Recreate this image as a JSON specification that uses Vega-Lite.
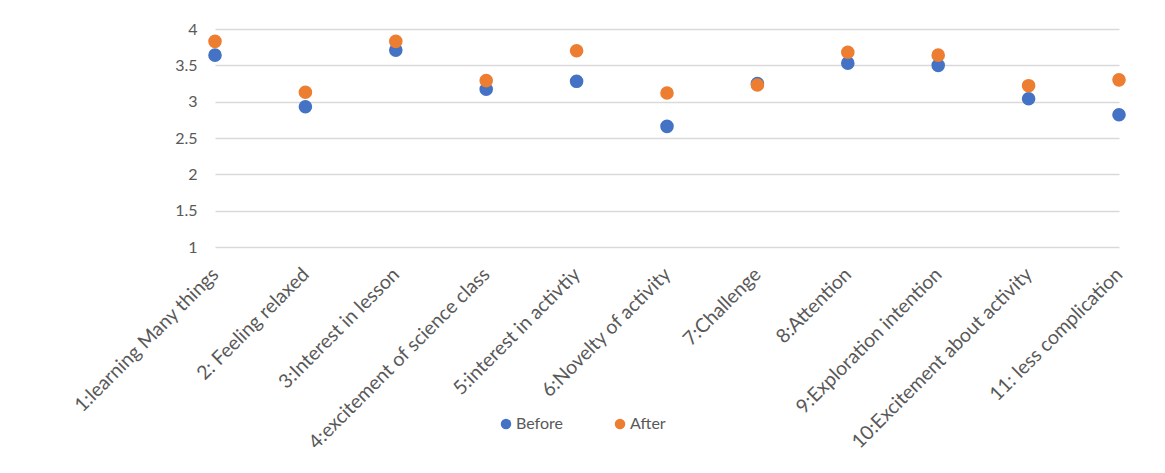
{
  "$schema": "https://vega.github.io/schema/vega-lite/v6.json",
  "autosize": "none",
  "width": 904,
  "height": 218,
  "padding": {"left": 215, "top": 29, "right": 46, "bottom": 226},
  "background": "white",
  "config": {
    "font": "Lato",
    "view": {"stroke": null},
    "axis": {"labelColor": "#595959", "labelFont": "Lato", "labelFontSize": 16}
  },
  "data": {
    "values": [
      {"item": "1:learning Many things", "phase": "Before", "score": 3.64},
      {"item": "2: Feeling relaxed", "phase": "Before", "score": 2.93},
      {"item": "3:Interest in lesson", "phase": "Before", "score": 3.71},
      {"item": "4:excitement of science class", "phase": "Before", "score": 3.17},
      {"item": "5:interest in activtiy", "phase": "Before", "score": 3.28},
      {"item": "6:Novelty of activity", "phase": "Before", "score": 2.66},
      {"item": "7:Challenge", "phase": "Before", "score": 3.25},
      {"item": "8:Attention", "phase": "Before", "score": 3.53},
      {"item": "9:Exploration intention", "phase": "Before", "score": 3.50},
      {"item": "10:Excitement about activity", "phase": "Before", "score": 3.04},
      {"item": "11: less complication", "phase": "Before", "score": 2.82},
      {"item": "1:learning Many things", "phase": "After", "score": 3.83},
      {"item": "2: Feeling relaxed", "phase": "After", "score": 3.13},
      {"item": "3:Interest in lesson", "phase": "After", "score": 3.83},
      {"item": "4:excitement of science class", "phase": "After", "score": 3.29},
      {"item": "5:interest in activtiy", "phase": "After", "score": 3.70},
      {"item": "6:Novelty of activity", "phase": "After", "score": 3.12},
      {"item": "7:Challenge", "phase": "After", "score": 3.23},
      {"item": "8:Attention", "phase": "After", "score": 3.68},
      {"item": "9:Exploration intention", "phase": "After", "score": 3.64},
      {"item": "10:Excitement about activity", "phase": "After", "score": 3.22},
      {"item": "11: less complication", "phase": "After", "score": 3.30}
    ]
  },
  "mark": {"type": "circle", "size": 185, "opacity": 1},
  "encoding": {
    "x": {
      "field": "item",
      "type": "nominal",
      "sort": null,
      "scale": {"type": "point", "padding": 0},
      "axis": {
        "title": null,
        "domain": false,
        "ticks": false,
        "labelAngle": -45,
        "labelAlign": "right",
        "labelBaseline": "middle",
        "labelFontSize": 19.5,
        "labelPadding": 24,
        "labelLimit": 400
      }
    },
    "y": {
      "field": "score",
      "type": "quantitative",
      "scale": {"domain": [1, 4], "nice": false, "zero": false},
      "axis": {
        "title": null,
        "domain": false,
        "ticks": false,
        "values": [1, 1.5, 2, 2.5, 3, 3.5, 4],
        "labelExpr": "datum.value",
        "labelPadding": 18,
        "gridColor": "#D9D9D9",
        "gridWidth": 1.3
      }
    },
    "color": {
      "field": "phase",
      "type": "nominal",
      "sort": ["Before", "After"],
      "scale": {"domain": ["Before", "After"], "range": ["#4472C4", "#ED7D31"]},
      "legend": {
        "title": null,
        "orient": "none",
        "direction": "horizontal",
        "legendX": 283,
        "legendY": 387,
        "symbolType": "circle",
        "symbolSize": 110,
        "symbolOpacity": 1,
        "labelFont": "Lato",
        "labelFontSize": 16,
        "labelColor": "#595959",
        "labelOffset": 2,
        "columnPadding": 49
      }
    },
    "order": {"field": "phase", "sort": "descending"}
  }
}
